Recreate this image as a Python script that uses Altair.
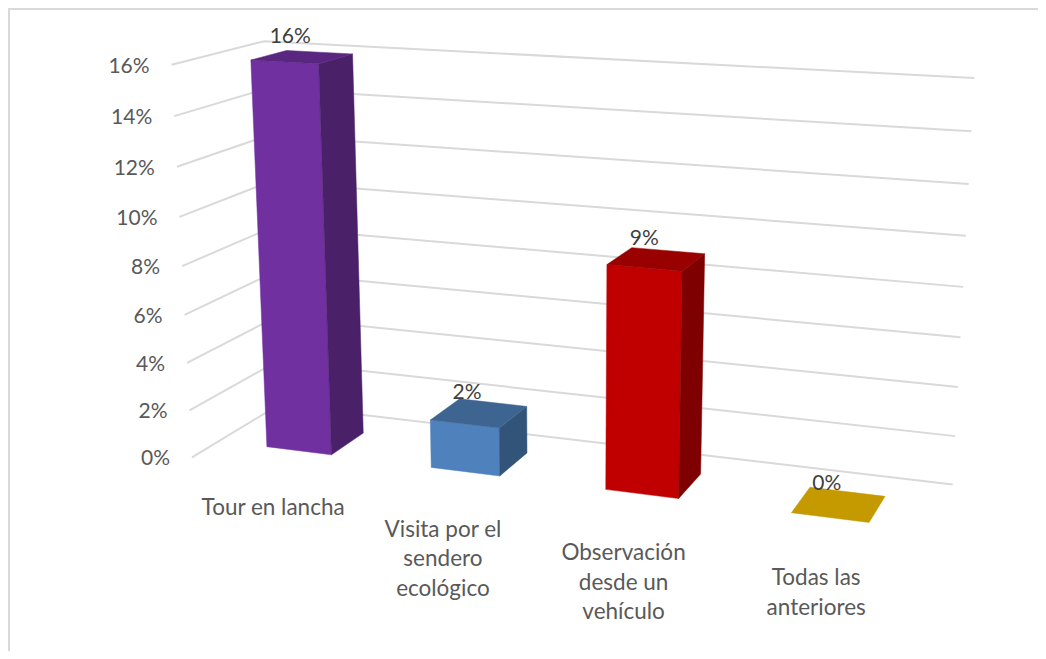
import numpy as np
import pandas as pd
import altair as alt

categories = ["Tour en lancha", "Visita por el\nsendero\necológico", "Observación\ndesde un\nvehículo", "Todas las\nanteriores"]
values = [16, 2, 9, 0]
ticks = [0, 2, 4, 6, 8, 10, 12, 14, 16]
front_colors = ["#7030A0", "#4F81BD", "#C00000", "#C49A00"]
side_colors = ["#4A2069", "#325479", "#7F0000", "#7F6300"]
top_colors = ["#592680", "#3E6591", "#990000", "#C49A00"]

BAR_U = (0.3, 0.7)
BAR_D = (0.3, 0.7)

# camera calibration: (category axis, value, depth) -> picture position
calib = [
    (0, 16, 0, 171, 65), (0, 0, 0, 191, 457), (0, 16, 1, 265, 41),
    (4, 16, 1, 974, 77), (4, 0, 1, 953, 485),
    (0.3, 16, 0.3, 251, 60), (0.7, 16, 0.3, 319, 64), (0.3, 16, 0.7, 287, 50), (0.7, 16, 0.7, 352, 54),
    (0.3, 0, 0.3, 267, 447), (0.7, 0, 0.3, 332, 454), (0.7, 0, 0.7, 363, 433),
    (1.3, 2, 0.3, 431, 420), (1.7, 2, 0.3, 499, 428), (1.3, 2, 0.7, 458, 400), (1.7, 2, 0.7, 527, 407),
    (1.3, 0, 0.3, 432, 467), (1.7, 0, 0.3, 500, 476), (1.7, 0, 0.7, 527, 453),
    (2.3, 9, 0.3, 607, 265), (2.7, 9, 0.3, 682, 272), (2.3, 9, 0.7, 632, 248), (2.7, 9, 0.7, 704, 254),
    (2.3, 0, 0.3, 606, 489), (2.7, 0, 0.3, 679, 498), (2.7, 0, 0.7, 701, 473),
    (3.3, 0, 0.3, 792, 513), (3.7, 0, 0.3, 869, 522), (3.3, 0, 0.7, 809, 487), (3.7, 0, 0.7, 885, 497),
]
A, b = [], []
for U, V, D, px, py in calib:
    A.append([U, V, D, 1, 0, 0, 0, 0, -px * U, -px * V, -px * D])
    b.append(px)
    A.append([0, 0, 0, 0, U, V, D, 1, -py * U, -py * V, -py * D])
    b.append(py)
p = np.linalg.lstsq(np.array(A, float), np.array(b, float), rcond=None)[0]


def project(U, V, D):
    w = p[8] * U + p[9] * V + p[10] * D + 1
    return (p[0] * U + p[1] * V + p[2] * D + p[3]) / w, (p[4] * U + p[5] * V + p[6] * D + p[7]) / w


W, H = 1030, 643
sx = alt.Scale(domain=[8, 8 + W], range=[0, W], nice=False, zero=False)
sy = alt.Scale(domain=[8, 8 + H], range=[0, H], nice=False, zero=False)
X = alt.X("x:Q", scale=sx, axis=None)
Y = alt.Y("y:Q", scale=sy, axis=None)
FONT = "Lato"

layers = []

# outer frame
frame = pd.DataFrame({"x": [9, 9, 8 + W], "y": [8 + H, 9, 9], "o": [0, 1, 2]})
layers.append(alt.Chart(frame).mark_line(color="#D9D9D9", strokeWidth=2).encode(x=X, y=Y, order="o:Q"))

# gridlines: side wall then back wall
rows = []
for t in ticks:
    for o, (U, D) in enumerate([(0, 0), (0, 1), (4, 1)]):
        x, y = project(U, t, D)
        rows.append({"t": t, "o": o, "x": x, "y": y})
layers.append(alt.Chart(pd.DataFrame(rows)).mark_line(color="#D9D9D9", strokeWidth=2).encode(
    x=X, y=Y, detail="t:N", order="o:Q"))


def face(points, color):
    df = pd.DataFrame([{"o": i, "x": project(*q)[0], "y": project(*q)[1]} for i, q in enumerate(points)])
    return alt.Chart(df).mark_line(fill=color, stroke=color, strokeWidth=0.5).encode(x=X, y=Y, order="o:Q")


for i, v in enumerate(values):
    u0, u1 = i + BAR_U[0], i + BAR_U[1]
    d0, d1 = BAR_D
    if v > 0:
        layers.append(face([(u0, 0, d0), (u1, 0, d0), (u1, v, d0), (u0, v, d0), (u0, 0, d0)], front_colors[i]))
        layers.append(face([(u1, 0, d0), (u1, 0, d1), (u1, v, d1), (u1, v, d0), (u1, 0, d0)], side_colors[i]))
    layers.append(face([(u0, v, d0), (u1, v, d0), (u1, v, d1), (u0, v, d1), (u0, v, d0)], top_colors[i]))

# value axis labels
tick_rows = []
for t in ticks:
    x, y = project(0, t, 0)
    tick_rows.append({"x": x - 22, "y": y + 2, "label": f"{t}%"})
layers.append(alt.Chart(pd.DataFrame(tick_rows)).mark_text(
    align="right", baseline="middle", font=FONT, fontSize=21, color="#595959").encode(x=X, y=Y, text="label:N"))

# category labels
cat_rows = []
for i, c in enumerate(categories):
    x, y = project(i + 0.5, 0, 0)
    cat_rows.append({"x": x, "y": y + 29, "label": c})
layers.append(alt.Chart(pd.DataFrame(cat_rows)).mark_text(
    align="center", baseline="top", lineBreak="\n", lineHeight=29.5, font=FONT, fontSize=22.5, color="#595959"
).encode(x=X, y=Y, text="label:N"))

# data labels
val_rows = []
for i, v in enumerate(values):
    x, y = project(i + 0.5, v, 0.5)
    val_rows.append({"x": x - 12, "y": y - 20, "label": f"{v}%"})
layers.append(alt.Chart(pd.DataFrame(val_rows)).mark_text(
    align="center", baseline="middle", font=FONT, fontSize=21, color="#404040").encode(x=X, y=Y, text="label:N"))

chart = alt.layer(*layers).properties(
    width=W, height=H, padding=0, autosize=alt.AutoSizeParams(type="none")
).configure_view(stroke=None).configure(background="white")

chart.save("out.html", embed_options={"renderer": "svg", "actions": False})
